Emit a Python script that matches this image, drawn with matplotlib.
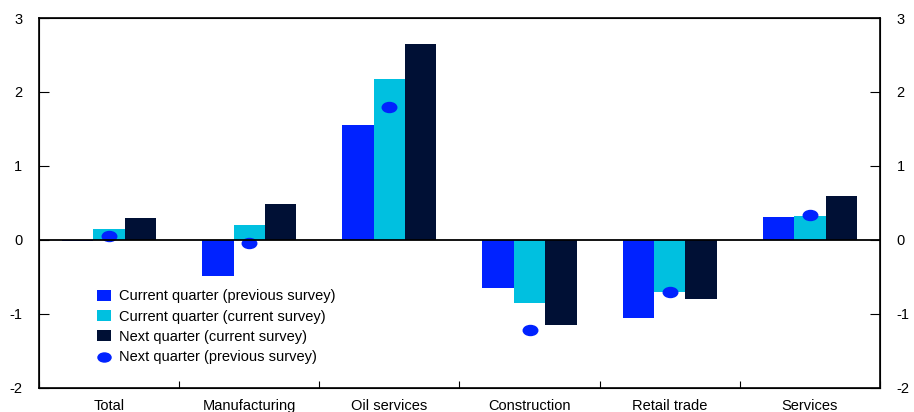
import numpy as np
import matplotlib.pyplot as plt
from matplotlib.markers import MarkerStyle
from matplotlib.transforms import Affine2D

plt.rcParams['font.family'] = ['Liberation Sans', 'DejaVu Sans']
plt.rcParams['axes.unicode_minus'] = False

categories = ['Total', 'Manufacturing', 'Oil services', 'Construction', 'Retail trade', 'Services']
cur_prev = [-0.02, -0.49, 1.55, -0.65, -1.05, 0.31]
cur_cur = [0.15, 0.20, 2.17, -0.85, -0.70, 0.32]
next_cur = [0.30, 0.49, 2.65, -1.15, -0.80, 0.59]
next_prev = [0.05, -0.04, 1.80, -1.21, -0.70, 0.34]

blue = '#0022ff'
cyan = '#00c0e0'
navy = '#001035'

fig = plt.figure(figsize=(9.14, 4.12), dpi=100)
ax = fig.add_axes([0.0427, 0.0583, 0.92, 0.898])

x = np.arange(len(categories))
w = 0.224
b1 = ax.bar(x - w, cur_prev, w, color=blue, label='Current quarter (previous survey)')
b2 = ax.bar(x, cur_cur, w, color=cyan, label='Current quarter (current survey)')
b3 = ax.bar(x + w, next_cur, w, color=navy, label='Next quarter (current survey)')
ell = MarkerStyle('o', transform=Affine2D().scale(1.45, 1.0))
sc = ax.scatter(x, next_prev, marker=ell, s=52, color=blue, zorder=3, label='Next quarter (previous survey)')

ax.axhline(0, color='black', lw=1.3, zorder=4)
ax.set_xlim(-0.5, len(categories) - 0.5)
ax.set_ylim(-2, 3)
ax.set_yticks(range(-2, 4))
ax.tick_params(axis='y', direction='in', length=7, labelsize=10.5, pad=12)

ax.set_xticks(np.arange(len(categories) + 1) - 0.5)
ax.set_xticklabels([])
ax.set_xticks(x, minor=True)
ax.set_xticklabels(categories, minor=True)
ax.tick_params(axis='x', which='major', direction='in', length=5)
ax.tick_params(axis='x', which='minor', length=0, labelsize=10.5, pad=8)

for s in ax.spines.values():
    s.set_linewidth(1.2)

ax2 = ax.twinx()
ax2.set_ylim(-2, 3)
ax2.set_yticks(range(-2, 4))
ax2.tick_params(axis='y', direction='in', length=7, labelsize=10.5, pad=12)

ax.legend(handles=[b1, b2, b3, sc], loc='lower left', bbox_to_anchor=(0.053, 0.03),
          frameon=False, fontsize=10.5, handlelength=1.0, handleheight=0.8,
          handletextpad=0.5, labelspacing=0.42, markerscale=0.9)

fig.savefig('out.png', dpi=100)
